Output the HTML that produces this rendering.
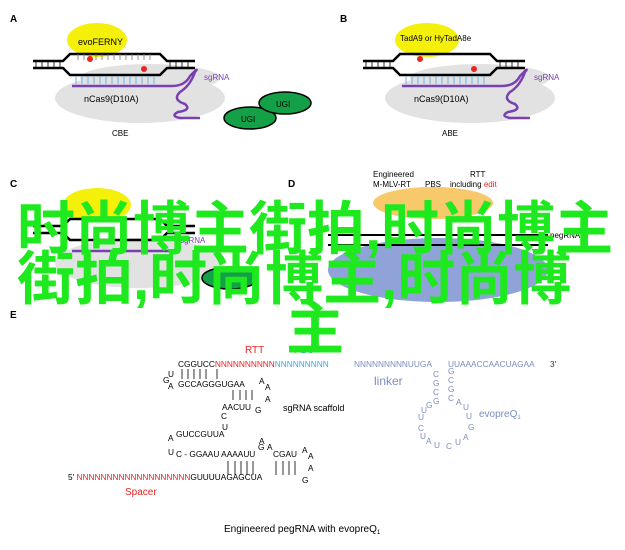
<!DOCTYPE html>
<html><head><meta charset="utf-8"><style>
body{margin:0;width:625px;height:550px;background:#fff;overflow:hidden;position:relative;font-family:"Liberation Sans",Arial,sans-serif}
svg{position:absolute;left:0;top:0}
.ov{position:absolute;font-family:"Liberation Sans","Noto Sans CJK SC",sans-serif;font-weight:bold;font-size:58px;line-height:50px;color:#1ee81e;white-space:nowrap}
</style></head><body>
<svg width="625" height="550" font-family="Liberation Sans, Arial, sans-serif">
<g id="pa">
<text x="10" y="22" font-size="10" font-weight="bold">A</text>
<ellipse cx="140" cy="98" rx="85" ry="25" fill="#e2e2e2"/>
<ellipse cx="150" cy="78" rx="70" ry="14" fill="#e2e2e2"/>
<ellipse cx="97" cy="40" rx="30" ry="17" fill="#f4f00a"/>
<text x="78" y="45" font-size="9">evoFERNY</text>
<path d="M33 61H63L70 54H160L167 61H195M33 68H63L70 75H160L167 68H195" stroke="#000" stroke-width="2.5" fill="none"/>
<path d="M36 61V68M42 61V68M48 61V68M54 61V68M60 61V68M170 61V68M176 61V68M182 61V68M188 61V68" stroke="#000" stroke-width="0.8"/>
<path d="M78 54V60M84 54V60M90 54V60M96 54V60M102 54V60M108 54V60M114 54V60M120 54V60M126 54V60M132 54V60M138 54V60M144 54V60M150 54V60" stroke="#777" stroke-width="0.8"/>
<path d="M76 76V84M82 76V84M88 76V84M94 76V84M100 76V84M106 76V84M112 76V84M118 76V84M124 76V84M130 76V84M136 76V84M142 76V84M148 76V84M154 76V84" stroke="#6ab4e8" stroke-width="1"/>
<path d="M72 86H172Q185 86 190 76Q200 66 195 72Q190 86 180 92Q172 100 185 104Q192 110 178 112Q170 116 180 118H200" stroke="#7a3fb0" stroke-width="2.5" fill="none"/>
<circle cx="90" cy="59" r="3" fill="#e22"/><circle cx="144" cy="69" r="3" fill="#e22"/>
<text x="204" y="80" font-size="8" fill="#7a3fb0">sgRNA</text>
<text x="84" y="102" font-size="9">nCas9(D10A)</text>
<text x="112" y="136" font-size="8">CBE</text>
<ellipse cx="250" cy="118" rx="26" ry="11" fill="#14a046" stroke="#000" stroke-width="1.5"/>
<ellipse cx="285" cy="103" rx="26" ry="11" fill="#14a046" stroke="#000" stroke-width="1.5"/>
<text x="241" y="122" font-size="8">UGI</text><text x="276" y="107" font-size="8">UGI</text>
</g>
<g transform="translate(330,0)">
<text x="10" y="22" font-size="10" font-weight="bold">B</text>
<ellipse cx="140" cy="98" rx="85" ry="25" fill="#e2e2e2"/>
<ellipse cx="150" cy="78" rx="70" ry="14" fill="#e2e2e2"/>
<ellipse cx="97" cy="40" rx="32" ry="17" fill="#f4f00a"/>
<text x="70" y="41" font-size="8">TadA9 or HyTadA8e</text>
<path d="M33 61H63L70 54H160L167 61H195M33 68H63L70 75H160L167 68H195" stroke="#000" stroke-width="2.5" fill="none"/>
<path d="M36 61V68M42 61V68M48 61V68M54 61V68M60 61V68M170 61V68M176 61V68M182 61V68M188 61V68" stroke="#000" stroke-width="0.8"/>
<path d="M76 76V84M82 76V84M88 76V84M94 76V84M100 76V84M106 76V84M112 76V84M118 76V84M124 76V84M130 76V84M136 76V84M142 76V84M148 76V84M154 76V84" stroke="#6ab4e8" stroke-width="1"/>
<path d="M72 86H172Q185 86 190 76Q200 66 195 72Q190 86 180 92Q172 100 185 104Q192 110 178 112Q170 116 180 118H200" stroke="#7a3fb0" stroke-width="2.5" fill="none"/>
<circle cx="90" cy="59" r="3" fill="#e22"/><circle cx="144" cy="69" r="3" fill="#e22"/>
<text x="204" y="80" font-size="8" fill="#7a3fb0">sgRNA</text>
<text x="84" y="102" font-size="9">nCas9(D10A)</text>
<text x="112" y="136" font-size="8">ABE</text>
</g>
<g transform="translate(0,165)">
<text x="10" y="22" font-size="10" font-weight="bold">C</text>
<ellipse cx="140" cy="98" rx="85" ry="25" fill="#e2e2e2"/>
<ellipse cx="97" cy="40" rx="34" ry="17" fill="#f4f00a"/>
<path d="M33 61H63L70 54H160L167 61H195M33 68H63L70 75H160L167 68H195" stroke="#000" stroke-width="2.5" fill="none"/>
<path d="M72 86H172" stroke="#7a3fb0" stroke-width="2.5"/>
<text x="180" y="78" font-size="8" fill="#7a3fb0">sgRNA</text>
<ellipse cx="230" cy="113" rx="28" ry="11" fill="#14a046" stroke="#000" stroke-width="1.5"/>
</g>
<g transform="translate(288,165)">
<text x="0" y="22" font-size="10" font-weight="bold">D</text>
<text x="85" y="12" font-size="8">Engineered</text>
<text x="85" y="22" font-size="8">M-MLV-RT</text>
<text x="137" y="22" font-size="8">PBS</text>
<text x="182" y="12" font-size="8">RTT</text>
<text x="162" y="22" font-size="8">including <tspan fill="#e22">edit</tspan></text>
<ellipse cx="145" cy="38" rx="60" ry="16" fill="#f7c96a"/>
<ellipse cx="150" cy="105" rx="110" ry="32" fill="#8fa3d8"/>
<path d="M40 70H260M40 80H260" stroke="#000" stroke-width="2"/>
<text x="262" y="73" font-size="8">pegRNA</text>
</g>
<text x="10" y="318" font-size="10" font-weight="bold">E</text>
<g font-size="8.3">
<text x="245" y="353" fill="#e22" font-size="10">RTT</text>
<text x="294" y="353" fill="#3aa8e0" font-size="10">PBS</text>
<text x="178" y="367">CGGUCC<tspan fill="#e22">NNNNNNNNNN</tspan><tspan fill="#3aa8e0">NNNNNNNNN</tspan></text>
<text x="354" y="367" fill="#7a8cc0">NNNNNNNNNUUGA</text>
<text x="448" y="367" fill="#7a8cc0">UUAAACCAACUAGAA</text>
<text x="550" y="367" fill="#333">3'</text>
<text x="374" y="385" fill="#7a8cc0" font-size="12">linker</text>
<text x="479" y="417" fill="#7a8cc0" font-size="10">evopreQ<tspan font-size="6" dy="2">1</tspan></text>
<text x="168" y="377">U</text><text x="163" y="383">G</text><text x="168" y="389">A</text>
<path d="M182 369V379M188 369V379M194 369V379M200 369V379M206 369V379M217 369V379" stroke="#000" stroke-width="0.8"/>
<text x="178" y="387">GCCAGGGUGAA</text><text x="259" y="384">A</text><text x="265" y="390">A</text><text x="265" y="402">A</text>
<path d="M233 390V400M240 390V400M246 390V400M252 390V400" stroke="#000" stroke-width="0.8"/>
<text x="222" y="410">AACUU</text><text x="255" y="413">G</text>
<text x="283" y="411" font-size="9">sgRNA  scaffold</text>
<text x="221" y="419">C</text><text x="222" y="430">U</text>
<text x="168" y="441">A</text><text x="176" y="437">GUCCGUUA</text>
<text x="168" y="455">U</text><text x="176" y="457">C - GGAAU  AAAAUU</text>
<text x="259" y="444">A</text><text x="258" y="450">G</text><text x="267" y="450">A</text>
<text x="273" y="457">CGAU</text><text x="302" y="453">A</text><text x="308" y="459">A</text><text x="308" y="471">A</text>
<path d="M228 461V475M235 461V475M241 461V475M247 461V475M253 461V475M276 461V475M283 461V475M289 461V475M295 461V475" stroke="#000" stroke-width="0.8"/>
<text x="68" y="480">5' <tspan fill="#e22">NNNNNNNNNNNNNNNNNNN</tspan>GUUUUAGAGCUA</text><text x="302" y="483">G</text>
<text x="125" y="495" fill="#e22" font-size="10">Spacer</text>
<g fill="#7a8cc0">
<text x="433" y="377">C</text><text x="433" y="386">G</text><text x="433" y="395">C</text><text x="433" y="404">G</text>
<text x="448" y="374">G</text><text x="448" y="383">C</text><text x="448" y="392">G</text><text x="448" y="401">C</text>
<text x="426" y="408">G</text><text x="421" y="413">U</text><text x="418" y="420">U</text><text x="418" y="431">C</text><text x="420" y="439">U</text><text x="426" y="444">A</text><text x="434" y="448">U</text><text x="446" y="449">C</text><text x="455" y="445">U</text><text x="463" y="440">A</text><text x="468" y="430">G</text><text x="466" y="419">U</text><text x="463" y="410">U</text><text x="456" y="405">A</text>
</g>
<text x="224" y="532" font-size="10">Engineered pegRNA  with evopreQ<tspan font-size="6" dy="2">1</tspan></text>
</g>
</svg>
<div class="ov" style="left:17px;top:205px">时尚博主街拍,时尚博主</div>
<div class="ov" style="left:17px;top:255px">街拍,时尚博主,时尚博</div>
<div class="ov" style="left:286px;top:305px">主</div>
</body></html>
